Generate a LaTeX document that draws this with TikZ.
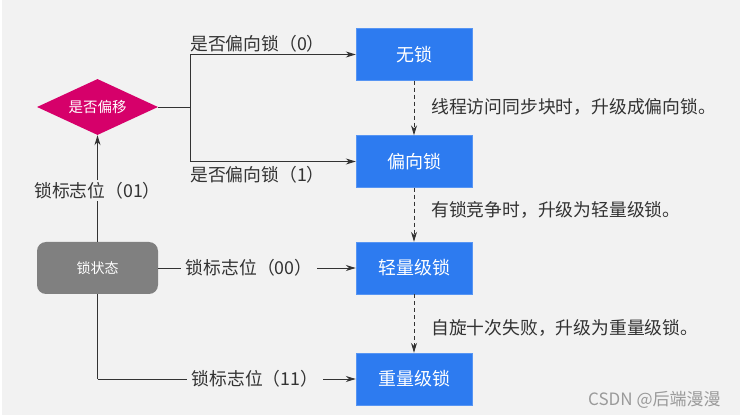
\documentclass[tikz,border=0pt]{standalone}
\usepackage{fontspec}
\setmainfont{Noto Sans CJK SC}
\usetikzlibrary{shapes.geometric,arrows.meta}
\definecolor{bg}{HTML}{F2F2F2}
\definecolor{blueb}{HTML}{2D7BF0}
\definecolor{mag}{HTML}{D6006A}
\definecolor{grayb}{HTML}{808080}
\definecolor{txt}{HTML}{333333}
\definecolor{wm}{HTML}{9A9A9A}
\begin{document}
\begin{tikzpicture}[x=1pt,y=-1pt,
  lockbox/.style={rectangle, fill=blueb, draw=blueb!80!white, minimum width=116pt, minimum height=52pt, inner sep=0pt, text=white, font=\fontsize{18}{20}\selectfont},
  lbl/.style={text=txt, inner sep=0pt, font=\fontsize{17.8}{20}\selectfont},
  onlbl/.style={fill=bg, text=txt, inner xsep=5pt, inner ysep=2pt, font=\fontsize{17.8}{20}\selectfont},
  conn/.style={draw=txt, line width=0.9pt},
  arr/.style={conn, -{Stealth[length=10pt,width=6pt]}},
  darr/.style={conn, dashed, dash pattern=on 4pt off 3pt, -{Stealth[length=10pt,width=6pt]}}
]
\useasboundingbox (0,0) rectangle (740,417);
\fill[bg] (2,0) rectangle (740,415);

\node[lockbox] (wu) at (414,54.5) {无锁};
\node[lockbox] (pian) at (414,161.5) {偏向锁};
\node[lockbox] (qing) at (414,268) {轻量级锁};
\node[lockbox] (zhong) at (414,379) {重量级锁};

\node[diamond, fill=mag, minimum width=121pt, minimum height=56pt, aspect=2.16, inner sep=0pt, text=white, font=\fontsize{14.5}{16}\selectfont] (dia) at (97.5,107) {是否偏移};

\node[rectangle, rounded corners=9pt, fill=grayb, minimum width=121pt, minimum height=52pt, inner sep=0pt, text=white, font=\fontsize{14}{16}\selectfont] (state) at (97.5,268) {锁状态};

\coordinate (split) at (190,107);
\draw[conn] (dia.east) -- (split);
\draw[arr] (split) |- (wu.west);
\draw[arr] (split) |- (pian.west);
\node[lbl, anchor=west] (l0) at (190,44) {是否偏向锁（0）};
\node[lbl, anchor=west] (l1) at (190,175) {是否偏向锁（1）};

\draw[arr] (state.north) -- node[onlbl, pos=0.48] (l01) {锁标志位（01）} (dia.south);
\draw[arr] (state.east) -- node[onlbl, pos=0.46] (l00) {锁标志位（00）} (qing.west);
\coordinate (bend) at (97.5,379);
\draw[conn] (state.south) -- (bend);
\draw[arr] (bend) -- node[onlbl, pos=0.61] (l11) {锁标志位（11）} (zhong.west);

\draw[darr] (wu.south) -- (pian.north);
\draw[darr] (pian.south) -- (qing.north);
\draw[darr] (qing.south) -- (zhong.north);
\node[lbl, anchor=west] (t1) at (431,107) {线程访问同步块时，升级成偏向锁。};
\node[lbl, anchor=west] (t2) at (431,210) {有锁竞争时，升级为轻量级锁。};
\node[lbl, anchor=west] (t3) at (431,328) {自旋十次失败，升级为重量级锁。};

\node[text=wm, inner sep=0pt, anchor=west, font=\fontsize{17}{19}\selectfont] (wmk) at (588,400) {CSDN @后端漫漫};
\end{tikzpicture}
\end{document}
